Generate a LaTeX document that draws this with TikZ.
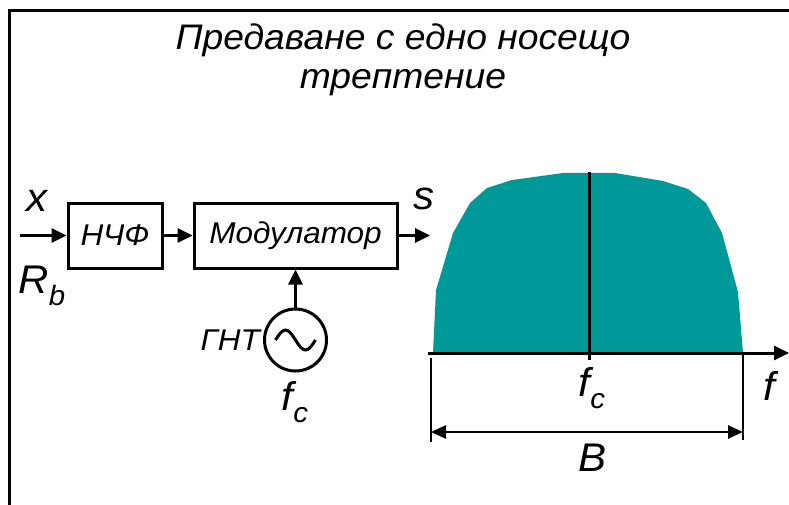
\documentclass[tikz,border=0pt]{standalone}
\usepackage{fontspec}
\setmainfont{Liberation Sans}[FakeStretch=1.05]
\usetikzlibrary{arrows.meta}
\definecolor{teal1}{HTML}{009999}
\newcommand{\fsz}[1]{\fontsize{#1}{#1}\selectfont}
\newcommand{\subc}[1]{\raisebox{-0.3em}{\fsz{28}#1}}
\begin{document}
\begin{tikzpicture}[x=1pt,y=-1pt, font=\itshape,
  blk/.style={draw, line width=3pt, inner sep=0pt},
  arr/.style={-{Triangle[length=15pt,width=14pt]}, line width=3pt},
  dim/.style={{Triangle[length=15pt,width=13pt]}-{Triangle[length=15pt,width=13pt]}, line width=2.5pt},
  lbl/.style={inner sep=0pt, font=\itshape\fsz{40}},
  btxt/.style={font=\itshape\fsz{30}}]
\useasboundingbox (0,0) rectangle (789,505);
\draw[line width=3pt] (9,505) -- (9,11) -- (789,11);
\node[align=center, font=\itshape\fontsize{35.5}{39}\selectfont, inner sep=0pt] (title) at (403,60)
  {Предаване с едно носещо\\трептение};
% block diagram
\node[blk, btxt, minimum width=94pt, minimum height=65pt] (lpf) at (115,235.5) {НЧФ};
\node[blk, btxt, minimum width=203pt, minimum height=65pt] (mod) at (295.5,235.5) {Модулатор};
\coordinate (in) at (20,235.5);
\coordinate (out) at (430,235.5);
\draw[arr] (in) -- (lpf.west);
\draw[arr] (lpf.east) -- (mod.west);
\draw[arr] (mod.east) -- (out);
\node[lbl] (x) at (37,201) {x};
\node[lbl] (rb) at (42,286) {R\subc{b}};
\node[lbl] (s) at (424,199) {s};
\node[draw, circle, line width=3pt, minimum size=62pt, inner sep=0pt] (osc) at (295.5,340) {};
\draw[line width=3pt] ([xshift=-20pt]osc.center) sin ++(10,-10) cos ++(10,10) sin ++(10,10) cos ++(10,-10);
\draw[arr] (osc.north) -- (mod.south);
\node[lbl, anchor=east, font=\itshape\fsz{30}] (gnt) at ([xshift=-3pt]osc.west) {ГНТ};
\node[lbl] (fc1) at (295,402) {f\subc{c}};
% spectrum
\fill[teal1] (433,353) -- (436,290) -- (453,233) -- (470,203) -- (487,188) -- (512,180)
  -- (563,173) -- (615,173) -- (663,181) -- (688,189) -- (706,203) -- (722,233)
  -- (738,292) -- (743,353) -- cycle;
\coordinate (ax0) at (428,353);
\coordinate (ax1) at (789,353);
\draw[arr] (ax0) -- (ax1);
\coordinate (ctop) at (589,172);
\coordinate (cbot) at (589,360);
\draw[line width=3pt] (ctop) -- (cbot);
\coordinate (l0) at (431,358);
\coordinate (l1) at (431,442);
\coordinate (r0) at (743,353);
\coordinate (r1) at (743,440);
\draw[line width=2.5pt] (l0) -- (l1);
\draw[line width=2.5pt] (r0) -- (r1);
\coordinate (bl) at (431,432);
\coordinate (br) at (743,432);
\draw[dim] (bl) -- (br);
\node[lbl] (fc2) at (592,388) {f\subc{c}};
\node[lbl] (f) at (769,386) {f};
\node[lbl] (B) at (592,458) {B};
\end{tikzpicture}
\end{document}
